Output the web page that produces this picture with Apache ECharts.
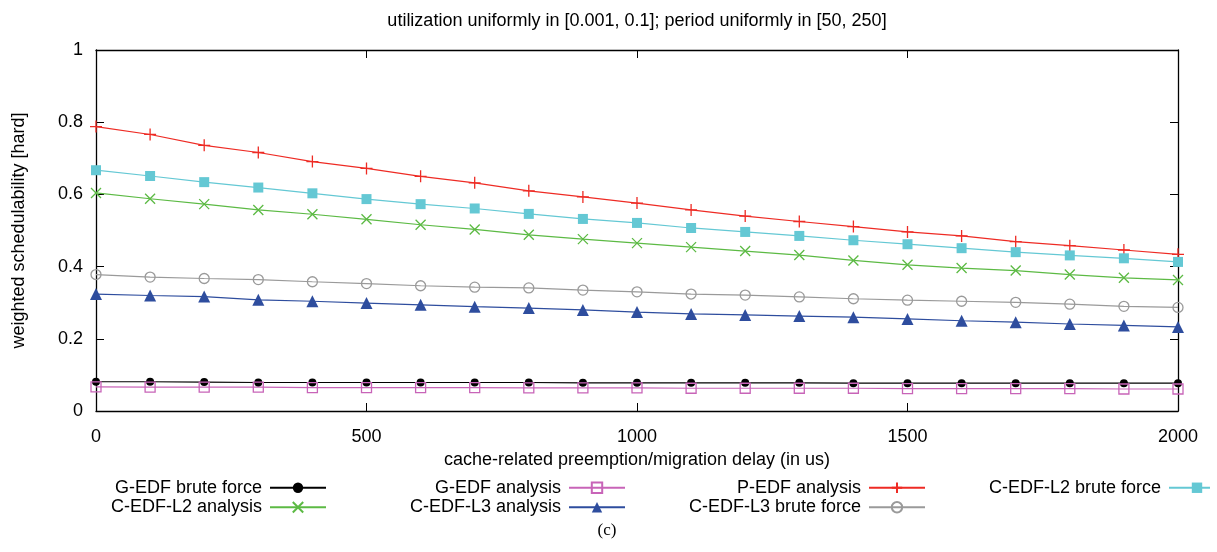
<!DOCTYPE html>
<html>
<head>
<meta charset="utf-8">
<script src="https://cdn.jsdelivr.net/npm/echarts@6/dist/echarts.min.js"></script>
<style>
html,body{margin:0;padding:0;background:#fff;}
#chart{width:1217px;height:552px;}
</style>
</head>
<body>
<div id="chart"></div>
<script>
const delays = [0,100,200,300,400,500,600,700,800,900,1000,1100,1200,1300,1400,1500,1600,1700,1800,1900,2000];

const gedfBrute   = [0.081,0.081,0.080,0.079,0.079,0.079,0.079,0.079,0.079,0.078,0.078,0.078,0.078,0.078,0.077,0.077,0.077,0.077,0.077,0.077,0.077];
const gedfAnal    = [0.067,0.066,0.066,0.066,0.065,0.065,0.065,0.065,0.064,0.064,0.064,0.063,0.063,0.063,0.063,0.062,0.062,0.062,0.062,0.061,0.061];
const pedfAnal    = [0.788,0.766,0.736,0.716,0.691,0.672,0.650,0.632,0.610,0.593,0.576,0.557,0.540,0.525,0.511,0.496,0.485,0.469,0.458,0.446,0.434];
const cedfL2Brute = [0.667,0.651,0.634,0.619,0.603,0.587,0.573,0.561,0.546,0.532,0.521,0.507,0.496,0.485,0.473,0.462,0.451,0.440,0.431,0.423,0.413];
const cedfL2Anal  = [0.604,0.588,0.573,0.557,0.545,0.531,0.516,0.503,0.488,0.476,0.465,0.454,0.443,0.432,0.417,0.405,0.396,0.389,0.378,0.369,0.363];
const cedfL3Anal  = [0.324,0.320,0.317,0.308,0.304,0.299,0.294,0.289,0.285,0.280,0.274,0.269,0.266,0.263,0.260,0.255,0.250,0.246,0.241,0.237,0.233];
const cedfL3Brute = [0.378,0.371,0.367,0.364,0.358,0.353,0.347,0.343,0.341,0.335,0.330,0.324,0.321,0.316,0.311,0.307,0.304,0.301,0.296,0.290,0.287];

const xTicks = [0,500,1000,1500,2000];
const yTicks = [0,0.2,0.4,0.6,0.8,1];

const titleText = 'utilization uniformly in [0.001, 0.1]; period uniformly in [50, 250]';
const xName = 'cache-related preemption/migration delay (in us)';
const yName = 'weighted schedulability [hard]';

const FONT = 'Liberation Sans, Arial, sans-serif';
const FS = 18;

function pts(arr){ return delays.map((d,i)=>[d,arr[i]]); }

const PLUS = 'path://M0,5L10,5M5,0L5,10';
const CROSS = 'path://M0,0L10,10M10,0L0,10';

function mk(name, data, color, symbol, size, opts){
  opts = opts || {};
  return {
    name: name, type: 'line', data: pts(data),
    xAxisIndex: 0, yAxisIndex: 0,
    symbol: symbol, symbolSize: size, showAllSymbol: true,
    clip: false,
    lineStyle: {color: color, width: 1.2},
    itemStyle: Object.assign({color: color, borderColor: color, borderWidth: 1.3}, opts.item || {}),
    emphasis: {disabled: true},
    animation: false
  };
}

const series = [
  mk('G-EDF brute force', gedfBrute, '#000000', 'circle', 8, {item:{borderWidth:0}}),
  mk('G-EDF analysis', gedfAnal, '#c864b8', 'rect', 10, {item:{color:'rgba(0,0,0,0)', borderColor:'#c864b8', borderWidth:1.3}}),
  mk('P-EDF analysis', pedfAnal, '#ee2b24', PLUS, 12, {}),
  mk('C-EDF-L2 brute force', cedfL2Brute, '#64c8d4', 'rect', 10, {item:{borderWidth:0}}),
  mk('C-EDF-L2 analysis', cedfL2Anal, '#5cba44', CROSS, 10, {}),
  mk('C-EDF-L3 analysis', cedfL3Anal, '#2e4d9e', 'triangle', 12, {item:{borderWidth:0}}),
  mk('C-EDF-L3 brute force', cedfL3Brute, '#9a9a9a', 'circle', 10, {item:{color:'rgba(0,0,0,0)', borderColor:'#9a9a9a', borderWidth:1.3}})
];

function legend(data, right){
  return {
    data: data, orient: 'vertical', align: 'right',
    right: right, top: 478, padding: 0,
    itemWidth: 56, itemHeight: 13, itemGap: 0,
    selectedMode: false,
    textStyle: {fontFamily: FONT, fontSize: FS, lineHeight: 19.5, color: '#000', padding: [0,3,0,0]}
  };
}

const axisLine = {show:true, onZero:false, lineStyle:{color:'#000', width:1.3}};
const tick = {show:true, inside:true, length:8, lineStyle:{color:'#000', width:1}};

const option = {
  backgroundColor: '#fff',
  animation: false,
  grid: {left: 96, right: 39, top: 50, bottom: 141, containLabel: false},
  legend: [
    legend(['G-EDF brute force','C-EDF-L2 analysis'], 890),
    legend(['G-EDF analysis','C-EDF-L3 analysis'], 591),
    legend(['P-EDF analysis','C-EDF-L3 brute force'], 291),
    legend(['C-EDF-L2 brute force'], -9)
  ],
  xAxis: [
    {type:'value', position:'bottom', min:0, max:2000, interval:500,
     axisLine: axisLine, axisTick: tick, splitLine:{show:false},
     axisLabel:{fontFamily:FONT, fontSize:FS, color:'#000', margin:17, formatter: v => String(v)},
     name: xName, nameLocation:'middle', nameGap:38,
     nameTextStyle:{fontFamily:FONT, fontSize:FS, color:'#000'}},
    {type:'value', position:'top', min:0, max:2000, interval:500,
     axisLine: axisLine, axisTick: tick, splitLine:{show:false},
     axisLabel:{show:false}}
  ],
  yAxis: [
    {type:'value', position:'left', min:0, max:1, interval:0.2,
     axisLine: axisLine, axisTick: tick, splitLine:{show:false},
     axisLabel:{fontFamily:FONT, fontSize:FS, color:'#000', margin:13, formatter: v => String(+v.toFixed(1))},
     name: yName, nameLocation:'middle', nameGap:68,
     nameTextStyle:{fontFamily:FONT, fontSize:FS, color:'#000'}},
    {type:'value', position:'right', min:0, max:1, interval:0.2,
     axisLine: axisLine, axisTick: tick, splitLine:{show:false},
     axisLabel:{show:false}}
  ],
  graphic: [
    {type:'text', x:637, y:12, style:{text:titleText, textAlign:'center', fontFamily:FONT, fontSize:FS, fill:'#000'}},
    {type:'text', x:607, y:522, style:{text:'(c)', textAlign:'center', fontFamily:'Liberation Serif, serif', fontSize:17, fill:'#000'}},
    {type:'rect', shape:{x:1210, y:470, width:7, height:30}, style:{fill:'#fff'}, z:100}
  ],
  series: series
};

const chart = echarts.init(document.getElementById('chart'), null, {renderer:'canvas'});
chart.setOption(option);
</script>
</body>
</html>
